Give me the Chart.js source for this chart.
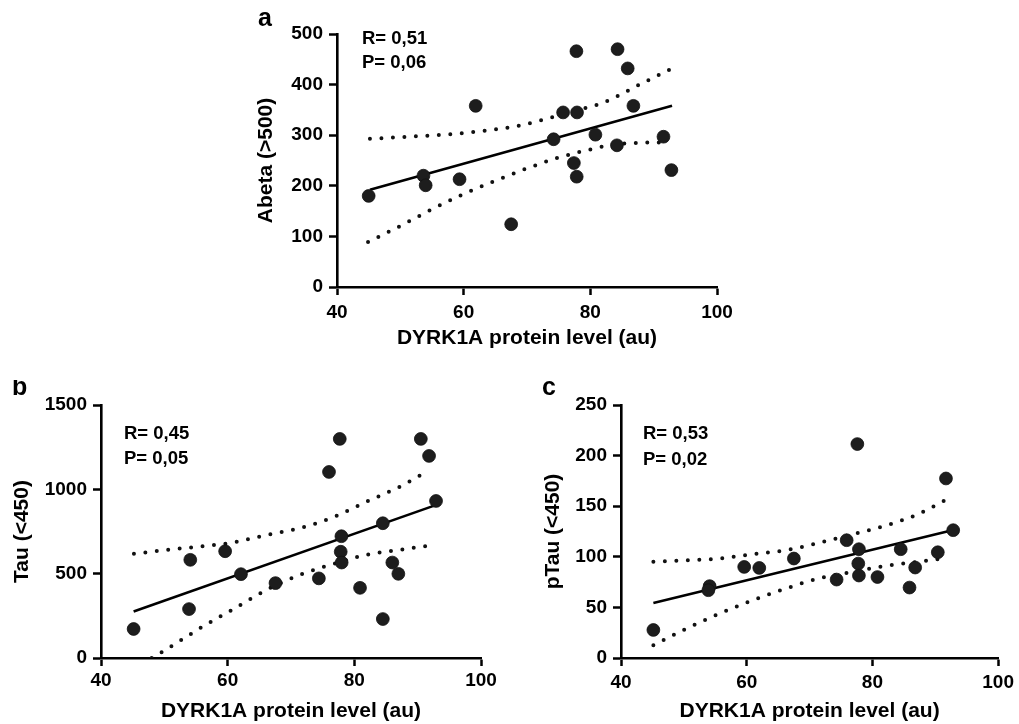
<!DOCTYPE html>
<html><head><meta charset="utf-8">
<script src="https://cdn.jsdelivr.net/npm/chart.js@4.4.1/dist/chart.umd.min.js"></script>
<style>
html,body{margin:0;padding:0;background:#fff;width:1019px;height:724px;overflow:hidden;}
canvas{position:absolute;}
</style></head><body>
<canvas id="ca" width="500" height="360" style="left:240px;top:0px;width:500px;height:360px"></canvas>
<canvas id="cb" width="510" height="344" style="left:0px;top:380px;width:510px;height:344px"></canvas>
<canvas id="cc" width="499" height="344" style="left:520px;top:380px;width:499px;height:344px"></canvas>
<script>
const xTitle = 'DYRK1A protein level (au)';
const xMin = 40, xMax = 100, xStep = 20;

// ---- panel a : Abeta
const aLetter = 'a';
const aYTitle = 'Abeta (>500)';
const aStats = ['R= 0,51', 'P= 0,06'];
const aYMax = 500, aYStep = 100;
const aX = [45.0, 53.65, 54.0, 59.35, 61.9, 67.5, 74.2, 75.7, 77.8, 77.9, 77.4, 77.85, 80.8, 84.3, 84.2, 85.9, 86.8, 91.55, 92.8];
const aY = [180, 220, 201, 213, 358, 124, 292, 345, 466, 345, 245, 218, 301, 470, 280, 432, 358, 297, 231];
const aFitX = [45.2, 92.9];
const aFitY = [192, 358];
const aUpX = [45.2, 50, 57.8, 63.1, 68.4, 72.05, 78.4, 82.1, 87.3, 92.6];
const aUpY = [293, 296, 302, 308.5, 318, 329, 351, 364.5, 397, 430];
const aLoX = [44.9, 49.9, 54.9, 59.7, 64.7, 69.7, 74.7, 79.7, 84.7, 92.6];
const aLoY = [89, 120, 153, 182, 208.5, 233, 254.6, 271, 283, 286];

// ---- panel b : Tau
const bLetter = 'b';
const bYTitle = 'Tau (<450)';
const bStats = ['R= 0,45', 'P= 0,05'];
const bYMax = 1500, bYStep = 500;
const bX = [45.15, 54.1, 53.9, 59.6, 62.1, 67.55, 74.4, 76.0, 77.7, 77.96, 77.85, 78.0, 80.9, 84.5, 84.5, 86.0, 86.95, 90.5, 91.8, 92.9];
const bY = [172, 582, 290, 633, 497, 444, 472, 1103, 1299, 722, 630, 566, 416, 799, 231, 566, 499, 1299, 1198, 931];
const bFitX = [45.15, 92.5];
const bFitY = [276, 902];
const bUpX = [45.2, 50.4, 55.7, 60.9, 66.2, 71.4, 76.7, 82.0, 87.2, 91.7];
const bUpY = [618, 641, 661, 685, 730, 770, 835, 928, 1016, 1111];
const bLoX = [48.0, 50.4, 55.7, 60.9, 66.2, 71.4, 76.7, 82.0, 87.2, 92.7];
const bLoY = [0, 53, 178, 290, 405, 493, 558, 612, 641, 671];

// ---- panel c : pTau
const cLetter = 'c';
const cYTitle = 'pTau (<450)';
const cStats = ['R= 0,53', 'P= 0,02'];
const cYMax = 250, cYStep = 50;
const cX = [45.15, 54.1, 53.9, 59.6, 62.0, 67.5, 74.3, 75.9, 77.6, 77.85, 77.75, 77.85, 80.8, 84.5, 85.9, 86.8, 90.4, 91.7, 92.85];
const cY = [27.7, 71, 67, 90, 89, 98.3, 77.5, 116.4, 211.4, 107.5, 93.3, 81.5, 80, 107.5, 69.6, 89.4, 104.5, 177.4, 126.3];
const cFitX = [45.15, 92.7];
const cFitY = [54.4, 126.3];
const cUpX = [45.15, 50.4, 55.7, 60.9, 66.2, 71.4, 76.7, 82.0, 87.2, 91.4];
const cUpY = [95, 96.6, 98.3, 102.6, 106.5, 113.7, 122, 130.6, 142, 155.3];
const cLoX = [45.15, 50.4, 55.7, 60.9, 66.2, 71.4, 76.7, 82.0, 87.2, 91.4];
const cLoY = [12.5, 29, 43.9, 57, 68.6, 78.5, 85, 91, 95, 98.3];

const FONT = '"Liberation Sans", Arial, Helvetica, sans-serif';
const zip = (xs, ys) => xs.map((x, i) => ({x: x, y: ys[i]}));

const annot = {
  id: 'annot',
  afterDraw(chart, args, o) {
    const ctx = chart.ctx, ca = chart.chartArea;
    ctx.save();
    ctx.fillStyle = '#000';
    ctx.font = 'bold 18.5px ' + FONT;
    ctx.textBaseline = 'middle';
    ctx.textAlign = 'left';
    ctx.fillText(o.lines[0], ca.left + o.dx, ca.top + o.dy1);
    ctx.fillText(o.lines[1], ca.left + o.dx, ca.top + o.dy2);
    ctx.font = 'bold 25px ' + FONT;
    ctx.textBaseline = 'alphabetic';
    ctx.fillText(o.letter, o.lx, o.ly);
    ctx.restore();
  }
};

function makePanel(id, p) {
  const dotted = {
    showLine: true, pointRadius: 0, borderColor: '#111', borderWidth: 4,
    borderDash: [0, 11.5], borderCapStyle: 'round', tension: 0.4,
    cubicInterpolationMode: 'monotone', fill: false, order: 2
  };
  new Chart(document.getElementById(id), {
    type: 'scatter',
    data: {
      datasets: [
        {data: zip(p.x, p.y), pointRadius: 6.4, pointBackgroundColor: '#1d1d1d',
         pointBorderColor: '#111', pointBorderWidth: 0.8, showLine: false, order: 0},
        {data: zip(p.fitX, p.fitY), showLine: true, pointRadius: 0,
         borderColor: '#000', borderWidth: 2.6, fill: false, order: 1},
        Object.assign({data: zip(p.upX, p.upY)}, dotted),
        Object.assign({data: zip(p.loX, p.loY)}, dotted)
      ]
    },
    plugins: [annot],
    options: {
      responsive: false, animation: false, events: [],
      layout: {padding: p.pad},
      plugins: {
        legend: {display: false}, tooltip: {enabled: false},
        annot: {lines: p.stats, dx: p.sdx, dy1: p.sdy1, dy2: p.sdy2, letter: p.letter, lx: p.lx, ly: p.ly}
      },
      scales: {
        x: {
          type: 'linear', min: xMin, max: xMax,
          afterFit: s => { s.height = p.xH; },
          ticks: {stepSize: xStep, color: '#000', padding: p.xtp, callback: v => String(v),
                  font: {family: FONT, size: 19, weight: 'bold'}},
          grid: {drawOnChartArea: false, drawTicks: true, tickLength: 8, tickWidth: 2.5, tickColor: '#000', color: '#000'},
          border: {display: true, color: '#000', width: 2.6},
          title: {display: true, text: xTitle, color: '#000', padding: {top: 0, bottom: p.xtb},
                  font: {family: FONT, size: 21, weight: 'bold', lineHeight: 1.2}}
        },
        y: {
          type: 'linear', min: 0, max: p.yMax,
          afterFit: s => { s.width = p.yW; },
          ticks: {stepSize: p.yStep, color: '#000', padding: 6, callback: v => String(v),
                  font: {family: FONT, size: 19, weight: 'bold'}},
          grid: {drawOnChartArea: false, drawTicks: true, tickLength: 8, tickWidth: 2.5, tickColor: '#000', color: '#000'},
          border: {display: true, color: '#000', width: 2.6},
          title: {display: true, text: p.yTitle, color: '#000', padding: {top: p.ytt, bottom: 0},
                  font: {family: FONT, size: 21, weight: 'bold', lineHeight: 1.2}}
        }
      }
    }
  });
}

makePanel('ca', {x: aX, y: aY, fitX: aFitX, fitY: aFitY, upX: aUpX, upY: aUpY, loX: aLoX, loY: aLoY,
  yMax: aYMax, yStep: aYStep, yTitle: aYTitle, stats: aStats, letter: aLetter,
  pad: {top: 34, right: 23, left: 0, bottom: 0}, xH: 73, yW: 97, xtp: 6, xtb: 9, ytt: 14,
  sdx: 25, sdy1: 5, sdy2: 29, lx: 18, ly: 26});
makePanel('cb', {x: bX, y: bY, fitX: bFitX, fitY: bFitY, upX: bUpX, upY: bUpY, loX: bLoX, loY: bLoY,
  yMax: bYMax, yStep: bYStep, yTitle: bYTitle, stats: bStats, letter: bLetter,
  pad: {top: 25, right: 29, left: 0, bottom: 0}, xH: 66, yW: 101, xtp: 3, xtb: 0, ytt: 10,
  sdx: 23, sdy1: 29, sdy2: 54, lx: 12, ly: 15});
makePanel('cc', {x: cX, y: cY, fitX: cFitX, fitY: cFitY, upX: cUpX, upY: cUpY, loX: cLoX, loY: cLoY,
  yMax: cYMax, yStep: cYStep, yTitle: cYTitle, stats: cStats, letter: cLetter,
  pad: {top: 25, right: 18, left: 0, bottom: 0}, xH: 66, yW: 101, xtp: 5, xtb: 0, ytt: 21,
  sdx: 22, sdy1: 29, sdy2: 55, lx: 22, ly: 15});
</script>
</body></html>
